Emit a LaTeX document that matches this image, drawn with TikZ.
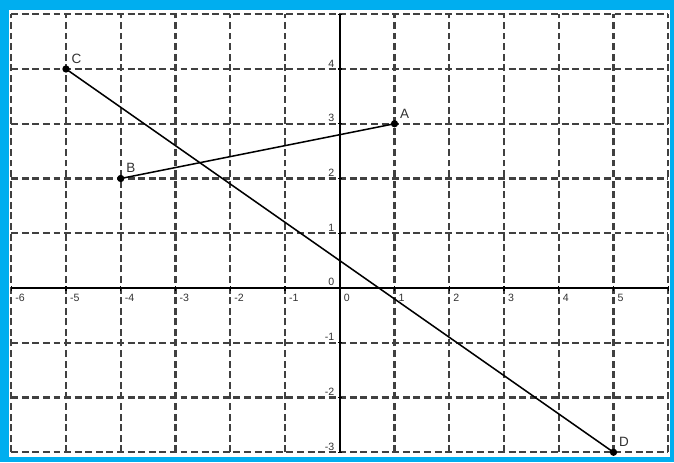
\documentclass[tikz,border=0pt]{standalone}
\usepackage{fontspec}
\setmainfont{Liberation Sans}
\usepackage{tikz}
\usetikzlibrary{arrows.meta,calc}
\definecolor{frameblue}{RGB}{0,174,239}
\definecolor{gridgray}{RGB}{64,64,64}
\definecolor{labelgray}{RGB}{50,50,50}

\begin{document}
\begin{tikzpicture}[line cap=butt,
    gridline/.style={gridgray,line width=1.1pt,dash pattern=on 3.6pt off 1.9pt},
    axisline/.style={black,line width=1.1pt},
    segline/.style={black,line width=0.8pt},
    pt/.style={circle,fill=black,inner sep=0pt,minimum size=3.8pt},
    ptlabel/.style={text=labelgray,font=\fontsize{7}{8}\selectfont,inner sep=1pt},
    ticklabel/.style={text=labelgray,font=\fontsize{5.5}{6}\selectfont,inner sep=0pt}]
      \useasboundingbox (-6.205,-3.178) rectangle (6.105,5.26);
      \fill[frameblue] (-6.205,-3.178) rectangle (6.105,5.26);
      \fill[white] (-6.04,-3.087) rectangle (6.032,5.077);
      % grid
      \foreach \x in {-6,...,6} \draw[gridline] (\x,-3) -- (\x,5);
      \foreach \y in {-3,...,5} \draw[gridline] (-6,\y) -- (6,\y);
      % axes
      \draw[axisline] (-6,0) -- (6,0);
      \draw[axisline] (0,-3) -- (0,5);
      \foreach \x in {-6,...,6} \draw[black,line width=0.6pt] (\x,-0.05) -- (\x,0.03);
      \foreach \y in {-3,...,5} \draw[black,line width=0.6pt] (-0.03,\y) -- (0.05,\y);
      \foreach \x in {-6,...,5}
        \node[ticklabel,anchor=north west,xshift=2pt,yshift=-3pt] (xl\x) at (\x,0) {\x};
      \foreach \y in {-3,...,4}
        \node[ticklabel,anchor=south east,xshift=-2.6pt,yshift=0.8pt] (yl\y) at (0,\y) {\y};
      % points
      \node[pt,label={[ptlabel,label distance=0.3pt]45:A}] (A) at (1,3) {};
      \node[pt,label={[ptlabel,label distance=0.3pt]45:B}] (B) at (-4,2) {};
      \node[pt,label={[ptlabel,label distance=0.3pt]45:C}] (C) at (-5,4) {};
      \node[pt,label={[ptlabel,label distance=0.3pt]45:D}] (D) at (5,-3) {};
      \draw[segline] (B.center) -- (A.center);
      \draw[segline] (C.center) -- (D.center);
    \end{tikzpicture}
\end{document}
